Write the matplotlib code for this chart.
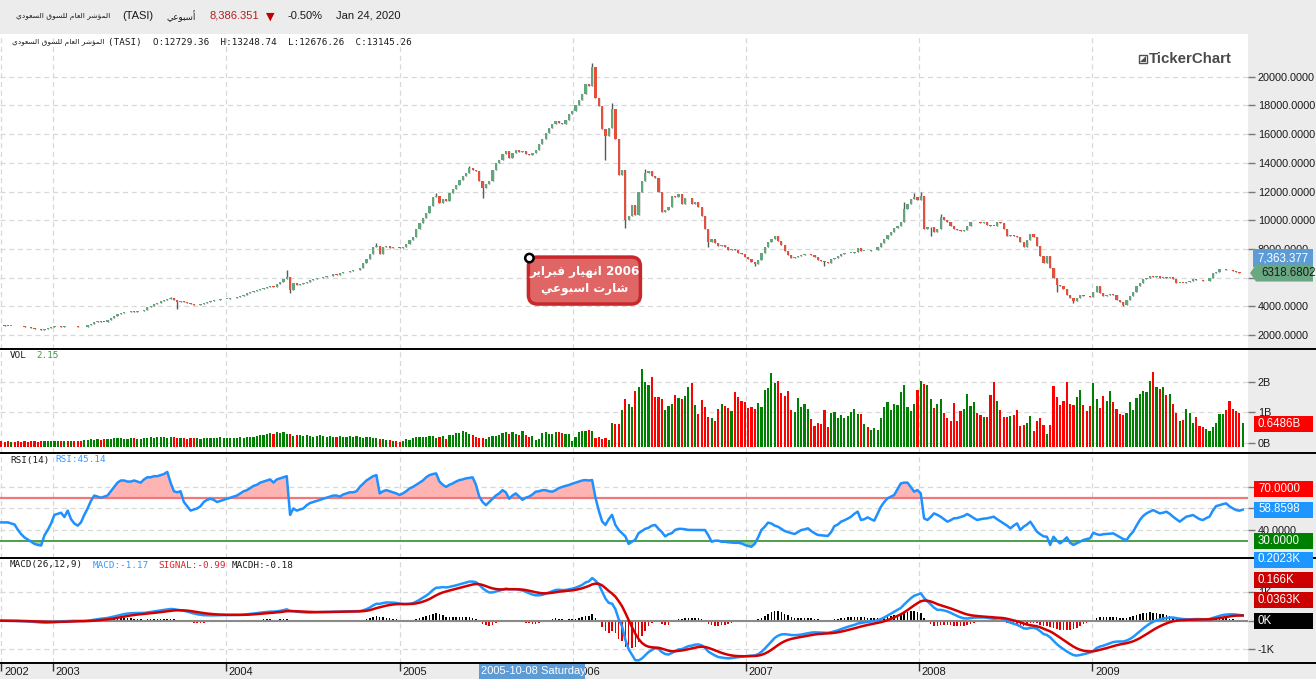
import numpy as np
import pandas as pd
import matplotlib
matplotlib.use("Agg")
import matplotlib.pyplot as plt
import matplotlib.dates as mdates
from matplotlib.patches import Rectangle, Polygon, FancyBboxPatch, Circle
from matplotlib.lines import Line2D
from matplotlib.transforms import IdentityTransform, ScaledTranslation

plt.rcParams['font.family'] = ['Liberation Sans', 'DejaVu Sans']

# ---- weekly TASI data ----
start_date = "2002-09-14"
first_open = 2700
closes = [
    2680, 2660, 2640, 2650, 2620, 2610, 2600, 2560, 2540, 2500,
    2450, 2400, 2380, 2420, 2480, 2560, 2600, 2610, 2590, 2620,
    2610, 2640, 2600, 2550, 2530, 2580, 2680, 2780, 2880, 2960,
    2940, 2930, 3050, 3200, 3350, 3480, 3560, 3600, 3620, 3640,
    3620, 3660, 3680, 3720, 3940, 4050, 4150, 4260, 4350, 4450,
    4520, 4600, 4450, 4320, 4360, 4280, 4250, 4130, 4060, 4100,
    4150, 4200, 4300, 4360, 4420, 4450, 4480, 4520, 4540, 4560,
    4600, 4680, 4720, 4800, 4900, 4980, 5050, 5150, 5230, 5300,
    5350, 5400, 5360, 5550, 5700, 5880, 6060, 5130, 5600, 5520,
    5580, 5650, 5700, 5800, 5900, 5950, 6000, 6050, 6100, 6120,
    6250, 6200, 6330, 6380, 6420, 6480, 6520, 6560, 6650, 7000,
    7300, 7650, 8100, 8200, 7650, 8150, 8200, 8050, 8150, 8100,
    8050, 8150, 8350, 8600, 8850, 9400, 9800, 10150, 10480, 11000,
    11650, 11720, 11200, 11500, 11350, 11880, 12200, 12470, 12800, 13050,
    13300, 13640, 13500, 13400, 12700, 12230, 12500, 12700, 13520, 13990,
    14200, 14600, 14800, 14340, 14700, 14900, 14750, 14800, 14600, 14570,
    14700, 14900, 15300, 15630, 16100, 16400, 16680, 16900, 16750, 16680,
    17000, 17380, 17620, 18000, 18400, 18780, 19490, 19370, 20650, 18550,
    17960, 16330, 15860, 16450, 17730, 15630, 13170, 13500, 10010, 10300,
    11070, 10370, 12000, 12700, 13290, 13400, 13050, 12950, 11950, 10550,
    10700, 10950, 11700, 11650, 11800, 11130, 11530, 11550, 11130, 11250,
    10900, 10300, 9400, 8450, 8700, 8400, 8200, 8300, 8100, 7950,
    7980, 7900, 7750, 7630, 7450, 7280, 7100, 6920, 7250, 7700,
    8100, 8450, 8700, 8900, 8560, 8300, 7860, 7600, 7400, 7450,
    7510, 7550, 7630, 7650, 7600, 7450, 7250, 7160, 7100, 7050,
    7300, 7400, 7500, 7630, 7700, 7740, 7750, 7800, 8050, 7860,
    7860, 7850, 7900, 7950, 8100, 8400, 8700, 8970, 9200, 9450,
    9620, 9900, 10800, 11130, 11450, 11600, 11400, 11700, 9380, 9500,
    9500, 9150, 9400, 10200, 10000, 9850, 9600, 9380, 9300, 9270,
    9350, 9600, 9850, 9900, 9850, 9800, 9850, 9700, 9620, 9600,
    9850, 9800, 9400, 8910, 8950, 8900, 8800, 8500, 8100, 8600,
    9030, 8800, 8200, 7500, 7040, 7500, 6700, 6000, 5520, 5400,
    5200, 4800, 4600, 4350, 4550, 4800, 4750, 4700, 4650, 5000,
    5400, 4950, 4700, 4820, 4850, 4800, 4470, 4300, 4120, 4450,
    4700, 5000, 5400, 5650, 5870, 5950, 6100, 6050, 6100, 6000,
    6050, 6000, 6050, 5900, 5640, 5650, 5640, 5700, 5750, 5870,
    5850, 5800, 5760, 5780, 6000, 6340, 6400, 6570, 6600, 6550,
    6500, 6480, 6380, 6300, 6318.6802,
]
# long wicks that stand out (week index -> price)
wick_hi = {51: 4680, 86: 6530, 113: 8400, 131: 11900, 141: 13800, 178: 20950,
           184: 18200, 194: 13600, 272: 11250, 275: 11900, 277: 12000, 283: 10400}
wick_lo = {53: 3830, 87: 4900, 145: 11530, 182: 14220, 188: 9430, 213: 8100,
           227: 6800, 248: 6800, 280: 8900, 318: 5000, 323: 4200, 338: 4000}

# volume in billions of shares
volumes = [
    0.04, 0.03, 0.04, 0.03, 0.02, 0.04, 0.03, 0.04, 0.03, 0.05, 0.04, 0.03, 0.05, 0.04, 0.04, 0.05,
    0.05, 0.05, 0.06, 0.06, 0.05, 0.06, 0.07, 0.06, 0.07, 0.08, 0.10, 0.12, 0.10, 0.13, 0.09,
    0.12, 0.11, 0.13, 0.14, 0.15, 0.14, 0.13, 0.12, 0.16, 0.14, 0.13, 0.12, 0.15, 0.17, 0.18,
    0.16, 0.18, 0.20, 0.19, 0.17, 0.20, 0.18, 0.16, 0.14, 0.15, 0.13, 0.14, 0.15, 0.14, 0.13,
    0.14, 0.15, 0.16, 0.15, 0.14, 0.20, 0.16, 0.14, 0.15, 0.16, 0.17, 0.18, 0.16, 0.19, 0.20,
    0.20, 0.22, 0.24, 0.25, 0.28, 0.32, 0.28, 0.35, 0.33, 0.34, 0.30, 0.28, 0.22, 0.26, 0.24,
    0.22, 0.24, 0.23, 0.20, 0.22, 0.24, 0.22, 0.20, 0.22, 0.20, 0.19, 0.22, 0.18, 0.20, 0.22,
    0.20, 0.22, 0.19, 0.17, 0.18, 0.20, 0.16, 0.14,
    0.12, 0.12, 0.09, 0.09, 0.05, 0.05, 0.02, 0.05, 0.12, 0.09,
    0.15, 0.18, 0.18, 0.18, 0.18, 0.22, 0.22, 0.15, 0.18, 0.22,
    0.12, 0.25, 0.25, 0.32, 0.32, 0.38, 0.35, 0.28, 0.25, 0.18, 0.16,
    0.15, 0.12, 0.18, 0.22, 0.22, 0.25, 0.32, 0.35, 0.28, 0.35,
    0.28, 0.25, 0.38, 0.25, 0.18, 0.22, 0.09, 0.12, 0.32, 0.35,
    0.28, 0.28, 0.35, 0.35, 0.32, 0.30, 0.28, 0.05, 0.18, 0.35, 0.38,
    0.38, 0.41, 0.38, 0.15, 0.18, 0.12, 0.15, 0.09, 0.64, 0.61,
    0.61, 1.07, 1.42, 1.26, 1.16, 1.68, 1.82, 2.43, 1.98, 1.88,
    2.17, 1.49, 1.49, 1.42, 1.07, 1.20, 1.26, 1.55, 1.46, 1.42, 1.52,
    1.82, 1.95, 1.23, 0.93, 1.39, 1.16, 0.84, 0.80, 0.71, 1.10,
    1.26, 1.20, 1.13, 1.03, 1.65, 1.50, 1.36, 1.33, 1.13, 1.16, 1.10,
    1.29, 1.16, 1.72, 1.78, 2.27, 1.95, 2.01, 1.62, 1.52, 1.68,
    1.07, 1.00, 1.46,
    1.16, 1.26, 1.10, 0.77, 0.54, 0.64, 0.61, 1.07, 0.51, 0.97,
    1.00, 0.80, 0.90, 0.80, 0.87, 1.00, 1.10, 0.93, 0.93, 0.61, 0.50,
    0.41, 0.48, 0.41, 0.80, 1.16, 1.33, 1.07, 1.26, 1.23, 1.65,
    1.88, 1.16, 1.03, 1.26, 1.72, 2.01, 1.91, 1.88, 1.42, 1.13,
    1.26, 1.42, 0.97, 0.80, 0.71, 1.29, 0.71, 1.03, 1.10, 1.59, 1.20,
    1.33, 0.97, 0.90, 0.84, 0.84, 1.55, 1.98, 1.36, 1.07, 0.84,
    0.84, 0.87, 0.90, 1.07, 0.54, 0.58, 0.64, 0.87, 0.38, 0.71,
    0.80, 0.58, 0.28, 0.58, 1.85, 1.50, 1.23, 1.36, 1.98, 1.26, 1.23,
    1.49, 1.72, 1.23, 1.03, 1.20, 1.95, 1.42, 1.13, 1.52, 1.36,
    1.68, 1.33, 1.10, 0.93,
    0.91, 0.97, 1.33, 1.07, 1.46, 1.60, 1.70, 1.66, 2.02, 2.32,
    1.82, 1.75, 1.82, 1.56, 1.60, 1.27, 0.97, 0.71, 0.74, 1.10,
    0.97, 0.64, 0.84, 0.55, 0.50, 0.45, 0.38, 0.51, 0.64, 0.94, 0.94,
    1.07, 1.37, 1.10, 1.04, 0.97, 0.6486,
]

# RSI(14) line as drawn
rsi_vals = [
    47, 47, 47, 46, 45, 40, 36, 33, 31, 29,
    27, 26, 25.5, 35, 40, 46, 54, 55, 56, 52,
    58, 50, 46, 44, 47, 54, 60, 67, 72, 71,
    70, 71, 72, 76, 80, 84, 86, 86, 85, 85,
    86, 85, 84, 87, 89, 89, 90, 90, 91, 92,
    94, 84, 76, 75, 76, 66, 62, 58, 59, 60,
    62, 66, 68, 69, 68, 66, 67, 68, 69, 70,
    71, 72, 74, 76, 77, 79, 81, 82, 84, 85,
    86, 87, 84, 87, 88, 89, 90, 54, 60, 58,
    59, 60, 63, 65, 66, 67, 68, 69, 70, 71,
    72, 72, 71, 73, 74, 75, 75, 76, 80, 83,
    86, 88, 90, 91, 74, 76, 77, 76, 75, 74,
    72.5, 74, 76, 78.7, 80, 82, 84, 86, 89, 91,
    92, 92.6, 85, 82, 80, 82, 83.3, 85, 86.4, 87,
    88, 88.5, 88.9, 82, 71, 66, 63, 66, 69, 72,
    74, 77, 75, 69, 72, 74, 71, 68, 70, 71,
    73, 75.6, 76, 77, 77, 76, 75.6, 77, 79, 80,
    81, 81.8, 83, 84, 85, 86, 86.4, 86, 86.4, 70,
    58, 48, 44.6, 50, 54, 44.6, 40, 37, 34, 27,
    29, 31, 37, 39, 41, 42, 44, 44.6, 41, 38,
    34, 36, 37, 40, 41, 41, 40.6, 40, 40, 40,
    40, 40, 39.9, 35, 29, 30, 30, 29, 29, 28.5,
    28.2, 28, 28, 27.5, 26, 25, 24.4, 27, 33, 40,
    43, 46.8, 46, 44, 43, 41, 39, 38, 37, 36.2,
    38, 39.9, 40.5, 41.5, 39, 37, 35.3, 35, 34.6, 34.4,
    38, 43.6, 45, 47.7, 49, 50.5, 52.3, 55, 57, 49.2,
    50, 51.7, 50, 48.6, 55, 61.6, 66, 69.4, 71, 72.5,
    78, 83.3, 84, 84, 80, 75.6, 77.1, 74, 50.8, 49.2,
    52, 55.4, 54, 52.3, 50, 47.7, 49, 50.8, 51, 52,
    53, 54.8, 53, 51, 49.2, 50, 50.5, 50.8, 51.5, 52.3,
    50, 48, 46.1, 44, 41.5, 44, 46.1, 39.9, 43, 45,
    47.7, 43, 38.4, 36, 34, 33.7, 26, 33.7, 30, 27.5,
    30, 33.1, 28, 26, 27.5, 29, 30.6, 31.5, 32.2, 37.4,
    36, 35.3, 36, 36.2, 36.5, 36.8, 35, 33.1, 31.5, 30.6,
    35, 38.4, 44, 49.2, 53, 55.4, 57, 58.5, 57, 55.4,
    56, 57, 55, 52.3, 50, 47.7, 50, 52.3, 53, 53.9,
    52, 50, 49.2, 51, 52.3, 58, 62.2, 63, 64, 64.7,
    62, 60.1, 58.5, 57.9, 58.8598,
]

assert len(closes) == len(volumes) == len(rsi_vals), (len(closes), len(volumes), len(rsi_vals))

cursor_date = "2005-10-08"
cursor_price = 7363.377
year_labels = ['2002', '2003', '2004', '2005', '2006', '2007', '2008', '2009']

# ---- arabic shaping (matplotlib has no bidi / joining) ----
AR_FORMS = {
    'ا': (0xFE8D, 0xFE8E, None, None), 'أ': (0xFE83, 0xFE84, None, None),
    'ؤ': (0xFE85, 0xFE86, None, None), 'د': (0xFEA9, 0xFEAA, None, None),
    'ر': (0xFEAD, 0xFEAE, None, None), 'و': (0xFEED, 0xFEEE, None, None),
    'ب': (0xFE8F, 0xFE90, 0xFE91, 0xFE92), 'ت': (0xFE95, 0xFE96, 0xFE97, 0xFE98),
    'س': (0xFEB1, 0xFEB2, 0xFEB3, 0xFEB4), 'ش': (0xFEB5, 0xFEB6, 0xFEB7, 0xFEB8),
    'ع': (0xFEC9, 0xFECA, 0xFECB, 0xFECC), 'ف': (0xFED1, 0xFED2, 0xFED3, 0xFED4),
    'ق': (0xFED5, 0xFED6, 0xFED7, 0xFED8), 'ل': (0xFEDD, 0xFEDE, 0xFEDF, 0xFEE0),
    'م': (0xFEE1, 0xFEE2, 0xFEE3, 0xFEE4), 'ن': (0xFEE5, 0xFEE6, 0xFEE7, 0xFEE8),
    'ه': (0xFEE9, 0xFEEA, 0xFEEB, 0xFEEC), 'ي': (0xFEF1, 0xFEF2, 0xFEF3, 0xFEF4),
}


def ar(text):
    out = []
    for k, ch in enumerate(text):
        f = AR_FORMS.get(ch)
        if f is None:
            out.append(ch)
            continue
        prev = text[k - 1] if k > 0 else ''
        nxt = text[k + 1] if k + 1 < len(text) else ''
        jp = prev in AR_FORMS and AR_FORMS[prev][2] is not None
        jn = nxt in AR_FORMS and f[2] is not None
        cp = f[3] if (jp and jn) else f[1] if jp else f[2] if jn else f[0]
        out.append(chr(cp))
    return ''.join(out)[::-1]


# ---- derived series ----
c = np.array(closes, dtype=float)
o = np.r_[first_open, c[:-1]]
up = c >= o
dates = pd.date_range(start_date, periods=len(c), freq="7D")
xd = mdates.date2num(dates)
hi = np.maximum(o, c)
lo = np.minimum(o, c)
for k, v in wick_hi.items():
    hi[k] = v
for k, v in wick_lo.items():
    lo[k] = v

s = pd.Series(c)
macd = s.ewm(span=12, adjust=False).mean() - s.ewm(span=26, adjust=False).mean()
signal = macd.ewm(span=9, adjust=False).mean()
hist = (macd - signal).values
rsi = np.array(rsi_vals)
vol = np.array(volumes)

# ---- figure layout (pixel based) ----
W, H = 1316, 679
PX = IdentityTransform()
fig = plt.figure(figsize=(W / 100, H / 100), dpi=100, facecolor='#ececec')

d2003 = mdates.date2num(pd.Timestamp('2003-01-01'))
px_day = (1092.4 - 53) / 2192
xmin = d2003 - 53 / px_day
xmax = xmin + 1248 / px_day
year_ticks = [xd[0]] + [mdates.date2num(pd.Timestamp(f'{y}-01-01')) for y in range(2003, 2010)]


def panel(top, bot):
    ax = fig.add_axes([0, 1 - bot / H, 1248 / W, (bot - top) / H], facecolor='white')
    ax.set_xlim(xmin, xmax)
    ax.set_xticks(year_ticks)
    ax.yaxis.tick_right()
    ax.tick_params(axis='y', direction='out', length=5, width=1, color='#777777',
                   labelsize=7.8, pad=2, labelcolor='#1a1a1a')
    ax.tick_params(axis='x', length=0, labelbottom=False)
    ax.grid(True, color='#d8d8d8', linestyle=(0, (4, 3)), linewidth=0.9)
    ax.set_axisbelow(True)
    for sp in ax.spines.values():
        sp.set_visible(False)
    return ax


ax_p = panel(33.5, 349.3)
ax_v = panel(349.3, 453.3)
ax_r = panel(453.3, 558.3)
ax_m = panel(558.3, 663.3)

# price candles
ax_p.set_ylim(1006, 23010)
pticks = list(range(2000, 20001, 2000))
ax_p.set_yticks(pticks)
ax_p.set_yticklabels(['' if v == 6000 else f'{v:.4f}' for v in pticks])
ax_p.vlines(xd, lo, hi, color='#5a5a5a', lw=1, zorder=2)
ax_p.bar(xd, np.maximum(np.abs(c - o), 35), bottom=np.minimum(o, c), width=4.8,
         color=np.where(up, '#63a57c', '#e4503b'), linewidth=0, zorder=3)

# volume
ax_v.set_ylim(-0.348, 3.062)
ax_v.set_yticks([0, 1, 2])
ax_v.set_yticklabels(['0B', '1B', '2B'])
ax_v.bar(xd, vol + 0.13, bottom=-0.13, width=4.6,
         color=np.where(up, '#008000', '#ff0000'), linewidth=0, zorder=3)

# rsi (the 60 and 80 labels sit under the value tags)
ax_r.set_ylim(13.6, 111.3)
ax_r.set_yticks([40, 60, 80])
ax_r.set_yticklabels(['40.0000', '', ''])
ax_r.fill_between(xd, rsi, 70, where=rsi > 70, interpolate=True, color='#ffb4b4', lw=0, zorder=2)
ax_r.fill_between(xd, rsi, 30, where=rsi < 30, interpolate=True, color='#9ed19e', lw=0, zorder=2)
ax_r.axhline(70, color='#f27878', lw=1.6, zorder=3)
ax_r.axhline(30, color='#4e9e4e', lw=1.4, zorder=3)
ax_r.plot(xd, rsi, color='#1e90ff', lw=1.8, zorder=4)

# macd
ax_m.set_ylim(-1505, 2205)
ax_m.set_yticks([-1000, 0, 1000])
ax_m.set_yticklabels(['-1K', '', '1K'])
ax_m.bar(xd, hist, width=3.3, color=np.where(hist >= 0, '#000000', '#e00000'), linewidth=0, zorder=2)
ax_m.axhline(0, color='#8a8a8a', lw=1.5, zorder=3)
ax_m.plot(xd, macd.values, color='#1e96ff', lw=1.8, zorder=4)
ax_m.plot(xd, signal.values, color='#d40000', lw=1.8, zorder=5)
ax_m.tick_params(axis='x', direction='out', length=6, width=1, color='#333333',
                 labelbottom=True, labelsize=8, pad=-3.5, labelcolor='#1a1a1a')
ax_m.set_xticklabels(year_labels)
shift = ScaledTranslation(2 / 72, 0, fig.dpi_scale_trans)
for lab in ax_m.get_xticklabels():
    lab.set_ha('left')
    lab.set_transform(lab.get_transform() + shift)

# panel separators
for y in (349.3, 453.3, 558.3, 663.3):
    fig.add_artist(Line2D([0, W], [H - y, H - y], transform=PX, color='black', lw=1.4))

# ---- texts ----
mono = ['DejaVu Sans Mono', 'DejaVu Sans']


def txt(x, y, s, **kw):
    kw.setdefault('fontsize', 8)
    kw.setdefault('color', '#1a1a1a')
    kw.setdefault('ha', 'left')
    return fig.text(x, H - y, s, transform=PX, va='center', **kw)


index_name = 'المؤشر العام للسوق السعودي'
txt(110, 16, ar(index_name), family=['DejaVu Sans'], fontsize=5.4, ha='right')
txt(122, 16, '(TASI)')
txt(196, 16, ar('أسبوعي'), family=['DejaVu Sans'], fontsize=6.3, ha='right')
txt(210, 16, '8,386.351', color='#b32020')
txt(266, 17, '▼', color='#c00000', family=['DejaVu Sans'], fontsize=8)
txt(288, 16, '-0.50%')
txt(336, 16, 'Jan 24, 2020')

txt(104, 42, ar(index_name), family=['DejaVu Sans'], fontsize=5.3, ha='right')
txt(108, 42, '(TASI)  O:12729.36  H:13248.74  L:12676.26  C:13145.26', family=mono, fontsize=6.7)

txt(10, 356, 'VOL', family=mono, fontsize=6.7)
txt(36, 356, '2.15', family=mono, fontsize=6.7, color='#3c9a3c')
txt(10, 460, 'RSI(14)', family=mono, fontsize=6.7)
txt(55, 460, 'RSI:45.14', family=mono, fontsize=6.7, color='#3399ff')
txt(10, 565, 'MACD(26,12,9)', family=mono, fontsize=6.7)
txt(93, 565, 'MACD:-1.17', family=mono, fontsize=6.7, color='#3399ff')
txt(158, 565, 'SIGNAL:-0.99', family=mono, fontsize=6.7, color='#e0202a')
txt(232, 565, 'MACDH:-0.18', family=mono, fontsize=6.7)

# watermark
fig.add_artist(Rectangle((1139, H - 63), 8, 8, transform=PX, facecolor='white', edgecolor='#505050', lw=1))
fig.add_artist(Polygon([(1140, H - 62), (1146, H - 62), (1146, H - 56)], closed=True, transform=PX,
                       facecolor='#505050', edgecolor='none'))
txt(1149, 59, 'TickerChart', fontsize=10.8, fontweight='bold', color='#4a4a4a')


# right side value tags
def tag(yc, s, bg, fg='white', x0=1254, w=59, h=16):
    fig.add_artist(Rectangle((x0, H - yc - h / 2), w, h, transform=PX, facecolor=bg,
                             edgecolor='none', zorder=20))
    fig.text(x0 + 4, H - yc, s, transform=PX, color=fg, fontsize=8.3, va='center',
             ha='left', zorder=21)


fig.canvas.draw()
cx, cy = ax_p.transData.transform((mdates.date2num(pd.Timestamp(cursor_date)), cursor_price))
cx -= 3
last_y = H - ax_p.transData.transform((xd[-1], c[-1]))[1]

tag(H - cy, f'{cursor_price:,.3f}', '#5d9bd6', x0=1253, w=60, h=18)
fig.add_artist(Polygon([(1250, H - last_y), (1256, H - last_y + 8.5), (1313, H - last_y + 8.5),
                        (1313, H - last_y - 8.5), (1256, H - last_y - 8.5)], closed=True,
                       transform=PX, facecolor='#6aa883', edgecolor='none', zorder=20))
fig.text(1261, H - last_y, f'{c[-1]:.4f}', transform=PX, color='#1a1a1a', fontsize=8.3,
         va='center', ha='left', zorder=21)

tag(424, f'{vol[-1]:.4f}B', '#ff0000')
tag(489, '70.0000', '#ff0000')
tag(509.5, f'{rsi[-1]:.4f}', '#1e96ff')
tag(541, '30.0000', '#008000')
tag(559.5, '0.2023K', '#1e96ff')
tag(580, '0.166K', '#cc0000')
tag(600, '0.0363K', '#cc0000')
tag(621, '0K', '#000000')

# annotation callout
bx, by_top = cx - 1, H - cy - 1
box = FancyBboxPatch((bx, H - (by_top + 47)), 112, 47, boxstyle='round,pad=0,rounding_size=9',
                     transform=PX, facecolor='#e06666', edgecolor='#c8282b', lw=2.5, zorder=22)
fig.add_artist(box)
fig.add_artist(Circle((cx, cy), 4.2, transform=PX, facecolor='white', edgecolor='black', lw=1.8, zorder=23))
fig.text(bx + 56, H - (by_top + 14), ar('انهيار فبراير') + ' 2006', transform=PX, color='white',
         fontsize=8.6, fontweight='bold', family=['DejaVu Sans'], ha='center', va='center', zorder=24)
fig.text(bx + 56, H - (by_top + 31), ar('شارت اسبوعي'), transform=PX, color='white',
         fontsize=8.6, fontweight='bold', family=['DejaVu Sans'], ha='center', va='center', zorder=24)

# crosshair date label on the time axis
fig.add_artist(Rectangle((cx - 50, 0), 106, H - 664, transform=PX, facecolor='#5d9bd6',
                         edgecolor='none', zorder=20))
fig.text(cx - 48, H - 671, cursor_date + ' Saturday', transform=PX, color='white', fontsize=8,
         va='center', ha='left', zorder=21)

fig.savefig('out.png', dpi=100, facecolor=fig.get_facecolor())
